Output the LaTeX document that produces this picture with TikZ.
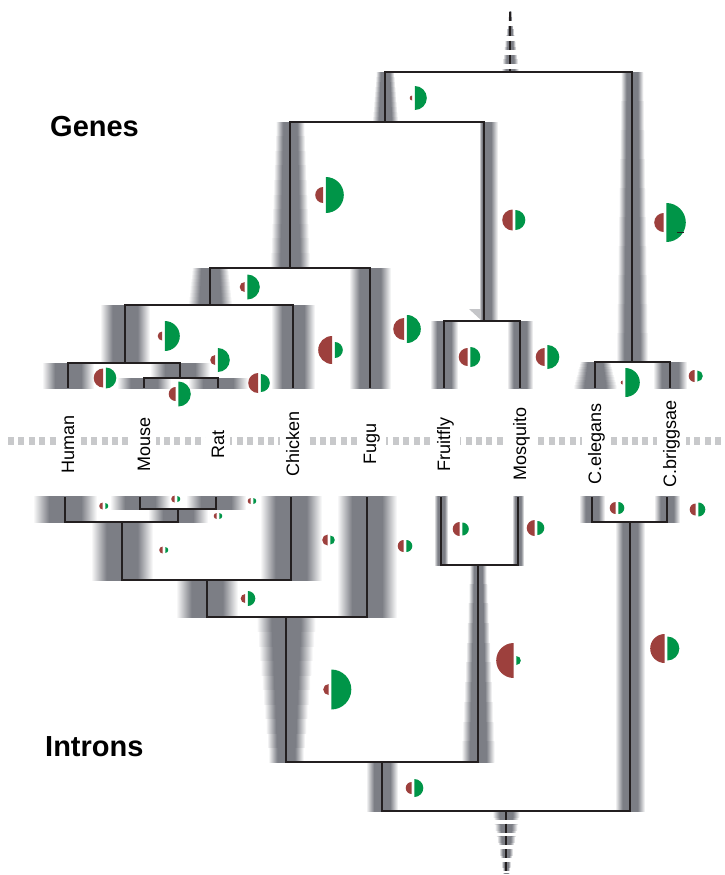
\documentclass[tikz,border=0pt]{standalone}
\usepackage{fontspec}
\setmainfont{Liberation Sans}
\usepackage{xcolor}
\definecolor{lossred}{RGB}{157,64,61}
\definecolor{gaingreen}{RGB}{0,149,72}
\definecolor{bandgray}{RGB}{124,126,133}
\definecolor{treeline}{RGB}{35,31,32}
\definecolor{dotgray}{RGB}{200,201,203}
\usepackage{tikz}
\pgfdeclarehorizontalshading{bandleft}{100bp}{color(0bp)=(white); color(25bp)=(white); color(50bp)=(bandgray); color(100bp)=(bandgray)}
\pgfdeclarehorizontalshading{bandright}{100bp}{color(0bp)=(bandgray); color(50bp)=(bandgray); color(75bp)=(white); color(100bp)=(white)}
% one side of a gray band round a branch, in ten slices:
% side (-1 left, 1 right), x, y at parent, y at child, half widths there
\newcommand{\bandhalf}[6]{%
  \foreach \k in {0,...,9}{%
    \pgfmathsetmacro{\ya}{#3+(#4-#3)*\k/10}
    \pgfmathsetmacro{\yb}{#3+(#4-#3)*(\k+1)/10+0.6*(#4-#3)/abs(#4-#3)}
    \pgfmathsetmacro{\hw}{#5+(#6-#5)*(\k+0.5)/10}
    \ifnum#1<0
      \shade[shading=bandleft] ({#2-\hw},\ya) rectangle (#2,\yb);
    \else
      \shade[shading=bandright] (#2,\ya) rectangle ({#2+\hw},\yb);
    \fi}}
\newcommand{\branchband}[5]{\bandhalf{-1}{#1}{#2}{#3}{#4}{#5}\bandhalf{1}{#1}{#2}{#3}{#4}{#5}}
% loss (red) and gain (green) half disks: x, y, loss radius, gain radius
\newcommand{\gainloss}[4]{%
  \fill[white] ({#1-1.3},{#2-max(#3,#4)}) rectangle ({#1+1.3},{#2+max(#3,#4)});
  \fill[lossred] ({#1-1.3},#2) ++(0,#3) arc[start angle=90,end angle=270,radius=#3] -- cycle;
  \fill[gaingreen] ({#1+1.3},#2) ++(0,-#4) arc[start angle=-90,end angle=90,radius=#4] -- cycle;}

\begin{document}
\begin{tikzpicture}[x=1pt, y=-1pt,
  branch/.style={draw=treeline, line width=2.8pt, line join=miter},
  species/.style={rotate=90, anchor=base, fill=white, inner xsep=1pt, inner ysep=6pt,
    font=\fontsize{18}{18}\selectfont},
  title/.style={anchor=base west, inner sep=0pt, font=\bfseries\fontsize{29}{29}\selectfont}]

  \useasboundingbox[fill=white] (0,0) rectangle (725,875);

  % tree nodes, genes
  \coordinate (gTop) at (510,12);
  \coordinate (gRoot) at (510,72);
  \coordinate (gCoel) at (385,122);
  \coordinate (gVert) at (290,268);
  \coordinate (gAmn) at (210,305);
  \coordinate (gMam) at (125,363);
  \coordinate (gMR) at (180,378);
  \coordinate (gIns) at (484,321);
  \coordinate (gNem) at (632,362);
  \coordinate (gHuman) at (68,388);
  \coordinate (gMouse) at (144,388);
  \coordinate (gRat) at (218,388);
  \coordinate (gChicken) at (293,388);
  \coordinate (gFugu) at (370,388);
  \coordinate (gFly) at (444,388);
  \coordinate (gMosq) at (520,388);
  \coordinate (gEleg) at (595,388);
  \coordinate (gBrig) at (670,388);

  % tree nodes, introns
  \coordinate (iBottom) at (506,873);
  \coordinate (iRoot) at (506,811);
  \coordinate (iCoel) at (382,762);
  \coordinate (iVert) at (286,617);
  \coordinate (iAmn) at (207,580);
  \coordinate (iMam) at (122,522);
  \coordinate (iMR) at (178,509);
  \coordinate (iIns) at (478,565);
  \coordinate (iNem) at (630,522);
  \coordinate (iHuman) at (65,497);
  \coordinate (iMouse) at (140,497);
  \coordinate (iRat) at (216,497);
  \coordinate (iChicken) at (291,497);
  \coordinate (iFugu) at (367,497);
  \coordinate (iFly) at (441,497);
  \coordinate (iMosq) at (518,497);
  \coordinate (iEleg) at (592,497);
  \coordinate (iBrig) at (667,497);

  % gray bands, genes
  \begin{scope}[blend mode=darken]
    \branchband{510}{12}{72}{1}{9}
    \branchband{385}{72}{122}{9}{13}
    \branchband{632}{72}{362}{11}{16}
    \bandhalf{-1}{484}{122}{321}{5}{5}
    \bandhalf{1}{484}{122}{321}{14}{14}
    \branchband{290}{122}{268}{14}{20}
    \branchband{370}{268}{388}{21}{21}
    \branchband{210}{268}{305}{18}{22}
    \branchband{293}{305}{388}{22}{22}
    \branchband{125}{305}{363}{25}{25}
    \branchband{68}{363}{388}{26}{26}
    \branchband{180}{363}{378}{30}{30}
    \branchband{144}{378}{388}{27}{27}
    \branchband{218}{378}{388}{30}{30}
    \branchband{444}{321}{388}{14}{14}
    \branchband{520}{321}{388}{13}{13}
    \branchband{595}{362}{388}{15}{22}
    \branchband{670}{362}{388}{17}{17}
    \fill[bandgray!45] (469,309) -- (482,309) -- (482,321) -- cycle;

    % gray bands, introns
    \branchband{65}{522}{497}{32}{32}
    \branchband{140}{509}{497}{30}{30}
    \branchband{216}{509}{497}{30}{30}
    \branchband{178}{522}{509}{30}{30}
    \branchband{122}{580}{522}{31}{31}
    \branchband{291}{580}{497}{31}{31}
    \branchband{207}{617}{580}{31}{31}
    \branchband{367}{617}{497}{30}{30}
    \branchband{286}{762}{617}{17}{30}
    \branchband{441}{565}{497}{7}{7}
    \branchband{518}{565}{497}{6}{6}
    \branchband{478}{762}{565}{17}{8}
    \branchband{592}{522}{497}{13}{13}
    \branchband{667}{522}{497}{13}{13}
    \branchband{630}{811}{522}{15}{15}
    \branchband{382}{811}{762}{16}{16}
    \branchband{506}{811}{873}{14}{3}
  \end{scope}

  % gaps in the root stubs
  \draw[white, line width=30pt, dash pattern=on 4.8pt off 9.5pt, dash phase=4.8pt] (gTop) -- (gRoot);
  \draw[white, line width=34pt, dash pattern=on 3.7pt off 9pt, dash phase=3.7pt] (iRoot) -- (iBottom);

  % gene tree
  \draw[branch, dash pattern=on 9.5pt off 4.8pt] (gTop) -- (gRoot);
  \draw[branch] (gRoot) -| (gCoel);
  \draw[branch] (gRoot) -| (gNem);
  \draw[branch] (gCoel) -| (gVert);
  \draw[branch] (gCoel) -| (gIns);
  \draw[branch] (gVert) -| (gAmn);
  \draw[branch] (gVert) -| (gFugu);
  \draw[branch] (gAmn) -| (gMam);
  \draw[branch] (gAmn) -| (gChicken);
  \draw[branch] (gMam) -| (gHuman);
  \draw[branch] (gMam) -| (gMR);
  \draw[branch] (gMR) -| (gMouse);
  \draw[branch] (gMR) -| (gRat);
  \draw[branch] (gIns) -| (gFly);
  \draw[branch] (gIns) -| (gMosq);
  \draw[branch] (gNem) -| (gEleg);
  \draw[branch] (gNem) -| (gBrig);

  % intron tree
  \draw[branch, dash pattern=on 9pt off 3.7pt] (iRoot) -- (iBottom);
  \draw[branch] (iRoot) -| (iCoel);
  \draw[branch] (iRoot) -| (iNem);
  \draw[branch] (iCoel) -| (iVert);
  \draw[branch] (iCoel) -| (iIns);
  \draw[branch] (iVert) -| (iAmn);
  \draw[branch] (iVert) -| (iFugu);
  \draw[branch] (iAmn) -| (iMam);
  \draw[branch] (iAmn) -| (iChicken);
  \draw[branch] (iMam) -| (iHuman);
  \draw[branch] (iMam) -| (iMR);
  \draw[branch] (iMR) -| (iMouse);
  \draw[branch] (iMR) -| (iRat);
  \draw[branch] (iIns) -| (iFly);
  \draw[branch] (iIns) -| (iMosq);
  \draw[branch] (iNem) -| (iEleg);
  \draw[branch] (iNem) -| (iBrig);

  % losses and gains, genes
  \gainloss{413.5}{98}{2.5}{12}
  \gainloss{324.5}{195}{8}{18}
  \gainloss{514}{220}{10.5}{10}
  \gainloss{665}{222.5}{9.5}{19.5}
  \draw[treeline, line width=1pt] (677,232) -- (684,232);
  \gainloss{246}{287}{5}{12.5}
  \gainloss{333.5}{350}{14}{8}
  \gainloss{405.5}{329}{11}{14}
  \gainloss{163.5}{336}{4.5}{15}
  \gainloss{216.5}{360}{5}{12}
  \gainloss{104.5}{378}{9.5}{10.5}
  \gainloss{259.5}{383}{10}{9}
  \gainloss{177}{394}{7}{12.5}
  \gainloss{469}{357}{9}{10}
  \gainloss{546}{357}{9}{12}
  \gainloss{624}{382.5}{2}{14.5}
  \gainloss{696}{376}{6}{5.5}

  % losses and gains, introns
  \gainloss{104}{506}{3.5}{3}
  \gainloss{176}{499}{3.5}{3}
  \gainloss{252}{501}{3}{3}
  \gainloss{218}{516}{3}{3}
  \gainloss{164}{550}{3.5}{3}
  \gainloss{329}{540}{5.5}{4.5}
  \gainloss{405}{546}{6}{6}
  \gainloss{246.5}{598.5}{4.5}{7.5}
  \gainloss{330}{689.5}{5.5}{20}
  \gainloss{461}{529}{7}{6.5}
  \gainloss{536}{528}{8}{7}
  \gainloss{515}{660.5}{17.5}{4.5}
  \gainloss{617}{508}{6}{6}
  \gainloss{697}{509.5}{6}{7}
  \gainloss{666}{648.5}{14.5}{12}
  \gainloss{413}{788}{6}{9}

  % dotted divider and species names
  \draw[dotgray, line width=8pt, dash pattern=on 6pt off 4.4pt] (8,441) -- (725,441);
  \node[species] (nHuman) at (74,444) {Human};
  \node[species] (nMouse) at (150,444) {Mouse};
  \node[species] (nRat) at (224,444) {Rat};
  \node[species] (nChicken) at (299,444) {Chicken};
  \node[species] (nFugu) at (376,444) {Fugu};
  \node[species] (nFly) at (450,444) {Fruitfly};
  \node[species] (nMosq) at (526,444) {Mosquito};
  \node[species] (nEleg) at (601,444) {C.elegans};
  \node[species] (nBrig) at (676,444) {C.briggsae};

  % titles
  \node[title] (genes) at (50,136) {Genes};
  \node[title] (introns) at (45,756) {Introns};

\end{tikzpicture}
\end{document}
